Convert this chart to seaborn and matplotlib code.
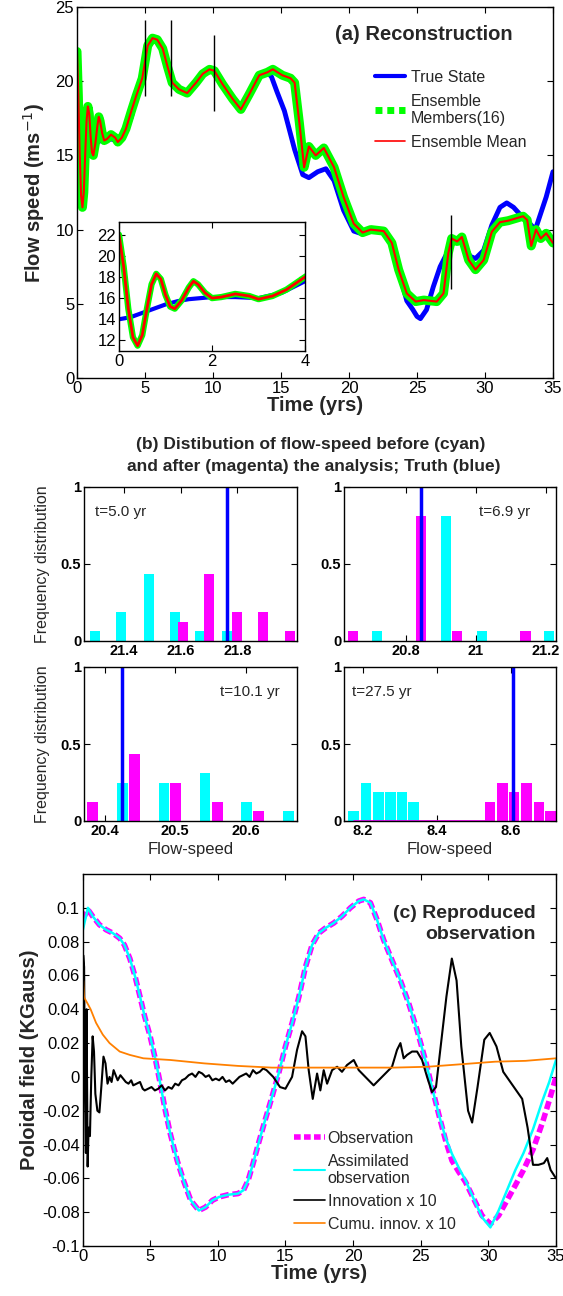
import numpy as np
import matplotlib
matplotlib.use("Agg")
import matplotlib.pyplot as plt
from matplotlib.lines import Line2D
import seaborn as sns

# (a) reconstruction: (time in yrs, flow speed in m/s)
ens_mean = [(0.0, 22.0), (0.1, 19.0), (0.2, 15.0), (0.3, 12.3), (0.4, 11.5), (0.5, 12.5),
            (0.6, 15.0), (0.7, 17.3), (0.8, 18.3), (0.9, 17.8), (1.0, 16.3), (1.1, 15.2),
            (1.2, 15.0), (1.35, 15.8), (1.5, 17.0), (1.6, 17.6), (1.7, 17.3), (1.85, 16.5),
            (2.0, 16.0), (2.2, 16.1), (2.5, 16.4), (2.8, 16.2), (3.0, 15.9), (3.3, 16.2),
            (3.6, 16.8), (4.0, 18.0), (4.35, 19.0), (4.8, 20.2), (5.0, 21.3), (5.2, 22.4),
            (5.55, 22.9), (5.9, 22.8), (6.3, 22.2), (6.65, 21.0), (7.0, 19.9), (7.5, 19.45),
            (8.1, 19.2), (8.75, 19.9), (9.25, 20.5), (9.75, 20.8), (10.1, 20.7), (10.7, 19.8),
            (11.45, 18.8), (12.05, 18.1), (12.65, 19.1), (13.4, 20.4), (14.0, 20.6),
            (14.4, 20.8), (15.1, 20.4), (15.7, 20.2), (16.0, 19.9), (16.35, 17.2),
            (16.7, 14.2), (17.05, 15.6), (17.55, 15.0), (18.15, 15.5), (18.9, 14.2),
            (19.6, 12.2), (20.35, 10.4), (21.0, 9.8), (21.6, 10.0), (22.55, 9.9), (23.15, 9.1),
            (23.65, 7.3), (24.25, 5.7), (24.9, 5.15), (25.5, 5.25), (26.45, 5.15), (26.95, 5.7),
            (27.3, 8.4), (27.55, 9.4), (27.95, 9.2), (28.3, 9.5), (28.8, 7.95), (29.3, 7.3),
            (29.9, 7.95), (30.5, 9.85), (31.1, 10.5), (31.7, 10.6), (32.8, 10.9), (33.1, 10.65),
            (33.4, 8.9), (33.75, 10.0), (34.1, 9.4), (34.5, 9.75), (35.0, 9.1)]

true_state = [(0.0, 14.0), (0.25, 14.2), (0.5, 14.6), (0.75, 15.0), (1.0, 15.4), (1.25, 15.7),
              (1.5, 15.9), (1.75, 16.0), (2.0, 16.1), (2.5, 16.1), (3.0, 16.0), (3.5, 16.5),
              (4.0, 17.6), (4.35, 19.0), (4.8, 20.6), (5.2, 22.2), (5.55, 22.8), (5.9, 22.7),
              (6.3, 22.1), (6.65, 21.0), (7.0, 19.9), (7.5, 19.45), (8.1, 19.2), (8.75, 19.9),
              (9.25, 20.5), (9.75, 20.8), (10.1, 20.6), (10.7, 19.8), (11.45, 18.8),
              (12.05, 18.1), (12.65, 19.1), (13.4, 20.4), (14.0, 20.6), (14.3, 20.3),
              (14.7, 19.3), (15.25, 18.0), (16.0, 15.4), (16.6, 13.7), (17.05, 13.5),
              (17.7, 13.9), (18.3, 14.1), (18.9, 13.3), (19.6, 11.3), (20.35, 9.9), (21.0, 9.7),
              (21.6, 9.95), (22.55, 9.9), (23.15, 9.1), (23.65, 7.2), (24.25, 5.2), (24.7, 4.6),
              (25.0, 4.15), (25.25, 4.0), (25.7, 4.6), (26.2, 6.15), (26.7, 7.5), (27.2, 8.4),
              (27.55, 9.1), (27.95, 9.4), (28.4, 9.1), (28.9, 8.2), (29.3, 8.05), (29.9, 8.6),
              (30.5, 10.3), (31.1, 11.5), (31.6, 11.8), (32.1, 11.5), (32.5, 11.1), (33.3, 10.4),
              (33.7, 10.0), (34.1, 11.1), (34.5, 12.2), (35.0, 13.9)]

obs_times = [5.0, 6.9, 10.1, 27.5]
obs_lo = [19.0, 19.0, 18.0, 6.0]
obs_hi = [24.1, 24.1, 23.1, 11.0]

# (b) ensemble frequency distributions (bar centre, frequency)
hist_titles = ["t=5.0 yr", "t=6.9 yr", "t=10.1 yr", "t=27.5 yr"]
before_x = [[21.30, 21.39, 21.49, 21.58, 21.67, 21.765],
            [20.719, 20.915, 21.018, 21.21],
            [20.425, 20.484, 20.542, 20.601, 20.66],
            [8.175, 8.209, 8.243, 8.275, 8.306, 8.338]]
before_f = [[0.0625, 0.1875, 0.4375, 0.1875, 0.0625, 0.0625],
            [0.0625, 0.8125, 0.0625, 0.0625],
            [0.25, 0.25, 0.3125, 0.125, 0.0625],
            [0.0625, 0.25, 0.1875, 0.1875, 0.1875, 0.125]]
after_x = [[21.608, 21.70, 21.80, 21.89, 21.986],
           [20.649, 20.844, 20.946, 21.143],
           [20.383, 20.442, 20.50, 20.56, 20.618],
           [8.543, 8.576, 8.608, 8.642, 8.675, 8.707]]
after_f = [[0.125, 0.4375, 0.1875, 0.1875, 0.0625],
           [0.0625, 0.8125, 0.0625, 0.0625],
           [0.125, 0.4375, 0.25, 0.125, 0.0625],
           [0.125, 0.25, 0.1875, 0.25, 0.125, 0.0625]]
truth = [21.765, 20.845, 20.425, 8.604]
hist_xlim = [(21.26, 22.01), (20.624, 21.23), (20.371, 20.672), (8.15, 8.721)]
hist_ticks = [[21.4, 21.6, 21.8], [20.8, 21.0, 21.2], [20.4, 20.5, 20.6], [8.2, 8.4, 8.6]]
hist_ticklabels = [["21.4", "21.6", "21.8"], ["20.8", "21", "21.2"],
                   ["20.4", "20.5", "20.6"], ["8.2", "8.4", "8.6"]]

# (c) reproduced observation: (time, KGauss)
observation = [(0.0, 0.093), (0.4, 0.099), (0.75, 0.095), (1.25, 0.09), (1.75, 0.087),
               (2.25, 0.085), (2.75, 0.082), (3.1, 0.078), (3.5, 0.07), (3.9, 0.059),
               (4.25, 0.0475), (4.6, 0.0356), (5.0, 0.024), (5.4, 0.01), (5.75, -0.004),
               (6.1, -0.019), (6.5, -0.034), (7.0, -0.0495), (7.5, -0.062), (8.0, -0.073),
               (8.6, -0.079), (9.1, -0.077), (9.6, -0.073), (10.1, -0.071), (10.75, -0.0697),
               (11.5, -0.069), (11.9, -0.067), (12.25, -0.061), (12.6, -0.0515), (13.0, -0.0396),
               (13.5, -0.0255), (14.0, -0.012), (14.5, 0.002), (15.0, 0.018), (15.5, 0.032),
               (16.0, 0.0475), (16.48, 0.065), (16.97, 0.078), (17.46, 0.085), (17.95, 0.088),
               (18.57, 0.091), (19.18, 0.095), (19.8, 0.1), (20.42, 0.104), (20.79, 0.105),
               (21.28, 0.103), (21.77, 0.093), (22.26, 0.081), (22.88, 0.069), (23.5, 0.057),
               (24.11, 0.0436), (24.73, 0.0277), (25.34, 0.01), (25.83, -0.006), (26.33, -0.022),
               (26.82, -0.037), (27.31, -0.0495), (27.8, -0.056), (28.3, -0.062), (28.91, -0.072),
               (29.53, -0.082), (30.15, -0.087), (30.76, -0.082), (31.38, -0.073), (32.0, -0.064),
               (32.6, -0.055), (33.3, -0.043), (34.0, -0.027), (34.5, -0.014), (35.0, 0.0)]

assimilated = [(0.0, 0.086), (0.4, 0.1), (0.75, 0.095), (1.25, 0.09), (1.75, 0.087),
               (2.25, 0.085), (2.75, 0.082), (3.1, 0.078), (3.5, 0.07), (3.9, 0.059),
               (4.25, 0.0475), (4.6, 0.0356), (5.0, 0.024), (5.4, 0.01), (5.75, -0.004),
               (6.1, -0.019), (6.5, -0.034), (7.0, -0.0495), (7.5, -0.062), (8.0, -0.073),
               (8.6, -0.079), (9.1, -0.077), (9.6, -0.073), (10.1, -0.071), (10.75, -0.0697),
               (11.5, -0.069), (11.9, -0.067), (12.25, -0.061), (12.6, -0.0515), (13.0, -0.0396),
               (13.5, -0.0255), (14.0, -0.012), (14.5, 0.002), (15.0, 0.018), (15.5, 0.032),
               (16.0, 0.0475), (16.48, 0.065), (16.97, 0.078), (17.46, 0.085), (17.95, 0.088),
               (18.57, 0.091), (19.18, 0.095), (19.8, 0.1), (20.42, 0.104), (20.79, 0.105),
               (21.28, 0.103), (21.77, 0.093), (22.26, 0.081), (22.88, 0.069), (23.5, 0.057),
               (24.11, 0.0436), (24.73, 0.0277), (25.34, 0.01), (25.83, -0.006), (26.33, -0.022),
               (26.82, -0.0356), (27.31, -0.0455), (27.8, -0.0535), (28.3, -0.061), (28.91, -0.072),
               (29.53, -0.083), (30.15, -0.089), (30.76, -0.079), (31.38, -0.067), (32.0, -0.055),
               (32.6, -0.045), (33.3, -0.031), (34.0, -0.014), (34.5, -0.003), (35.0, 0.01)]

innovation = [(0.0, 0.035), (0.05, 0.072), (0.12, 0.065), (0.18, -0.01), (0.25, -0.045),
              (0.3, 0.04), (0.38, -0.053), (0.45, -0.03), (0.55, -0.035), (0.65, 0.0),
              (0.75, 0.024), (0.85, 0.015), (0.95, -0.01), (1.1, -0.02), (1.25, -0.021),
              (1.4, -0.005), (1.55, 0.012), (1.7, 0.008), (1.85, -0.004), (2.0, 0.0),
              (2.15, -0.003), (2.3, 0.004), (2.45, 0.001), (2.6, -0.002), (2.8, 0.001),
              (3.0, -0.001), (3.2, -0.003), (3.4, -0.004), (3.6, -0.002), (3.75, -0.005),
              (4.0, -0.004), (4.25, -0.003), (4.45, -0.007), (4.6, -0.008), (4.85, -0.007),
              (5.1, -0.006), (5.35, -0.008), (5.6, -0.007), (5.85, -0.005), (6.1, -0.008),
              (6.35, -0.006), (6.6, -0.007), (6.85, -0.004), (7.1, -0.005), (7.35, -0.002),
              (7.6, -0.001), (7.85, 0.001), (8.1, 0.002), (8.35, 0.0), (8.6, 0.003),
              (8.85, 0.002), (9.1, 0.0), (9.35, 0.001), (9.6, -0.002), (9.85, -0.001),
              (10.1, -0.002), (10.35, 0.0), (10.6, -0.003), (10.85, -0.002), (11.1, -0.004),
              (11.35, -0.002), (11.6, 0.0), (11.85, 0.001), (12.1, 0.002), (12.35, 0.0),
              (12.6, 0.004), (12.85, 0.002), (13.1, 0.003), (13.35, 0.005), (13.6, 0.004),
              (13.85, 0.002), (14.1, 0.0), (14.35, -0.003), (14.6, -0.006), (15.0, -0.007),
              (15.49, 0.0), (15.86, 0.016), (16.23, 0.027), (16.48, 0.024), (16.72, 0.004),
              (17.02, -0.013), (17.34, 0.002), (17.58, -0.008), (17.83, 0.004), (18.08, -0.004),
              (18.45, 0.004), (18.82, 0.006), (19.18, 0.003), (19.55, 0.007), (20.05, 0.01),
              (20.42, 0.004), (20.79, 0.001), (21.15, -0.002), (21.52, -0.005), (21.89, -0.002),
              (22.39, 0.002), (22.88, 0.006), (23.25, 0.016), (23.5, 0.02), (23.74, 0.011),
              (23.99, 0.013), (24.36, 0.015), (24.73, 0.015), (25.1, 0.01), (25.47, 0.0),
              (25.83, -0.009), (26.13, -0.006), (26.45, 0.016), (26.9, 0.0475), (27.3, 0.07),
              (27.65, 0.057), (28.0, 0.018), (28.5, -0.02), (28.8, -0.027), (29.2, -0.006),
              (29.7, 0.022), (30.1, 0.026), (30.6, 0.018), (31.1, 0.003), (31.8, -0.005),
              (32.5, -0.013), (32.9, -0.03), (33.3, -0.052), (33.7, -0.052), (34.1, -0.051),
              (34.35, -0.048), (34.6, -0.055), (35.0, -0.06)]

cumu_innov = [(0.0, 0.034), (0.05, 0.057), (0.12, 0.047), (0.4, 0.043), (0.6, 0.04),
              (1.0, 0.032), (1.5, 0.025), (2.0, 0.02), (2.75, 0.015), (3.5, 0.013),
              (4.5, 0.011), (6.5, 0.01), (9.0, 0.008), (11.5, 0.0065), (14.0, 0.0055),
              (17.0, 0.0055), (20.0, 0.0055), (23.0, 0.0055), (25.5, 0.006), (28.0, 0.0075),
              (30.5, 0.009), (32.75, 0.0095), (35.0, 0.011)]
c_yticks = [-0.1, -0.08, -0.06, -0.04, -0.02, 0, 0.02, 0.04, 0.06, 0.08, 0.1]
c_yticklabels = ["-0.1", "-0.08", "-0.06", "-0.04", "-0.02", "0", "0.02", "0.04", "0.06", "0.08", "0.1"]

sns.set_style("ticks")
plt.rcParams["font.family"] = ["Liberation Sans", "DejaVu Sans"]
plt.rcParams["axes.unicode_minus"] = False
plt.rcParams["axes.edgecolor"] = "black"
plt.rcParams["axes.linewidth"] = 1.0

W, H = 563, 1296
fig = plt.figure(figsize=(W / 100, H / 100), dpi=100)


def box(l, t, r, b):
    return [l / W, 1 - b / H, (r - l) / W, (b - t) / H]


def style(ax, size, pad=2):
    ax.tick_params(direction="in", top=True, right=True, length=4, width=0.8,
                   labelsize=size, colors="black", pad=pad)


def draw(ax, data, **kw):
    arr = np.array(data)
    sns.lineplot(x=arr[:, 0], y=arr[:, 1], ax=ax, estimator=None, sort=False, **kw)


# ---------------- (a)
ax = fig.add_axes(box(77, 7, 553, 378))
draw(ax, true_state, color="blue", lw=3.5)
draw(ax, ens_mean, color="lime", lw=6.5)
draw(ax, ens_mean, color="red", lw=1.5)
ax.vlines(obs_times, obs_lo, obs_hi, color="black", lw=1)
ax.set_xlim(0, 35)
ax.set_ylim(0, 25)
ax.set_xticks(range(0, 36, 5))
ax.set_yticks(range(0, 26, 5))
style(ax, 12)
ax.set_xlabel("Time (yrs)", fontsize=14.5, fontweight="bold", labelpad=0)
ax.set_ylabel("Flow speed (ms$^{-1}$)", fontsize=14.5, fontweight="bold", labelpad=6)
ax.text(0.915, 0.925, "(a) Reconstruction", transform=ax.transAxes, ha="right",
        va="center", fontsize=14.5, fontweight="bold")
handles = [Line2D([], [], color="blue", lw=3),
           Line2D([], [], color="lime", lw=5, linestyle=(0, (1.0, 0.7))),
           Line2D([], [], color="red", lw=1.2)]
ax.legend(handles, ["True State", "Ensemble\nMembers(16)", "Ensemble Mean"],
          loc="upper left", bbox_to_anchor=(0.626, 0.83), frameon=False, fontsize=11.5,
          handlelength=1.9, handletextpad=0.35, borderpad=0, borderaxespad=0,
          labelspacing=0.55)

ins = fig.add_axes(box(119, 222, 305, 351))
draw(ins, true_state, color="blue", lw=3)
draw(ins, ens_mean, color="lime", lw=4.5)
draw(ins, ens_mean, color="red", lw=2)
ins.set_xlim(0, 4)
ins.set_ylim(11, 23.2)
ins.set_xticks([0, 2, 4])
ins.set_yticks([12, 14, 16, 18, 20, 22])
style(ins, 12)

# ---------------- (b)
fig.text(311 / W, 1 - 445 / H, "(b) Distibution of flow-speed before (cyan)",
         ha="center", va="center", fontsize=12.5, fontweight="bold")
fig.text(314 / W, 1 - 467 / H, "and after (magenta) the analysis; Truth (blue)",
         ha="center", va="center", fontsize=12.5, fontweight="bold")
boxes = [(84, 487, 297, 641), (344, 487, 556, 641), (84, 667, 297, 821), (344, 667, 556, 821)]
widths = [0.036, 0.029, 0.015, 0.029]
label_pos = [(0.05, "left"), (0.88, "right"), (0.92, "right"), (0.04, "left")]
for i in range(4):
    hx = fig.add_axes(box(*boxes[i]))
    hx.bar(before_x[i], before_f[i], width=widths[i], color="cyan", linewidth=0)
    hx.bar(after_x[i], after_f[i], width=widths[i], color="magenta", linewidth=0)
    if i == 3:
        hx.hlines(0, before_x[i][0], after_x[i][0], color="magenta", lw=2)
    hx.axvline(truth[i], color="blue", lw=2.5)
    hx.set_xlim(*hist_xlim[i])
    hx.set_ylim(0, 1)
    hx.set_xticks(hist_ticks[i])
    hx.set_xticklabels(hist_ticklabels[i])
    hx.set_yticks([0, 0.5, 1])
    hx.set_yticklabels(["0", "0.5", "1"])
    style(hx, 10.5)
    for lab in hx.get_xticklabels() + hx.get_yticklabels():
        lab.set_fontweight("bold")
    hx.text(label_pos[i][0], 0.84, hist_titles[i], transform=hx.transAxes,
            ha=label_pos[i][1], va="center", fontsize=11)
    if i % 2 == 0:
        hx.set_ylabel("Frequency distribution", fontsize=11.5, labelpad=8)
    if i >= 2:
        hx.set_xlabel("Flow-speed", fontsize=12, labelpad=3)

# ---------------- (c)
cx = fig.add_axes(box(82.5, 874, 556, 1246))
draw(cx, observation, color="magenta", lw=4, linestyle=(0, (1.5, 0.7)))
draw(cx, assimilated, color="cyan", lw=1.8)
draw(cx, innovation, color="black", lw=1.5)
draw(cx, cumu_innov, color="#ff8000", lw=1.3)
cx.set_xlim(0, 35)
cx.set_ylim(-0.1, 0.12)
cx.set_xticks(range(0, 36, 5))
cx.set_yticks(c_yticks)
cx.set_yticklabels(c_yticklabels)
style(cx, 12)
cx.set_xlabel("Time (yrs)", fontsize=14.5, fontweight="bold", labelpad=0)
cx.set_ylabel("Poloidal field (KGauss)", fontsize=14.5, fontweight="bold", labelpad=2)
cx.text(0.958, 0.866, "(c) Reproduced\nobservation", transform=cx.transAxes, ha="right",
        va="center", fontsize=14, fontweight="bold", multialignment="right", linespacing=1.3)
handles_c = [Line2D([], [], color="magenta", lw=4, linestyle=(0, (1.2, 0.6))),
             Line2D([], [], color="cyan", lw=1.5),
             Line2D([], [], color="black", lw=1.2),
             Line2D([], [], color="#ff8000", lw=1.2)]
cx.legend(handles_c, ["Observation", "Assimilated\nobservation", "Innovation x 10",
                      "Cumu. innov. x 10"],
          loc="upper left", bbox_to_anchor=(0.447, 0.31), frameon=False, fontsize=11.5,
          handlelength=1.9, handletextpad=0.2, borderpad=0, borderaxespad=0,
          labelspacing=0.5)

fig.savefig("out.png", dpi=100)
